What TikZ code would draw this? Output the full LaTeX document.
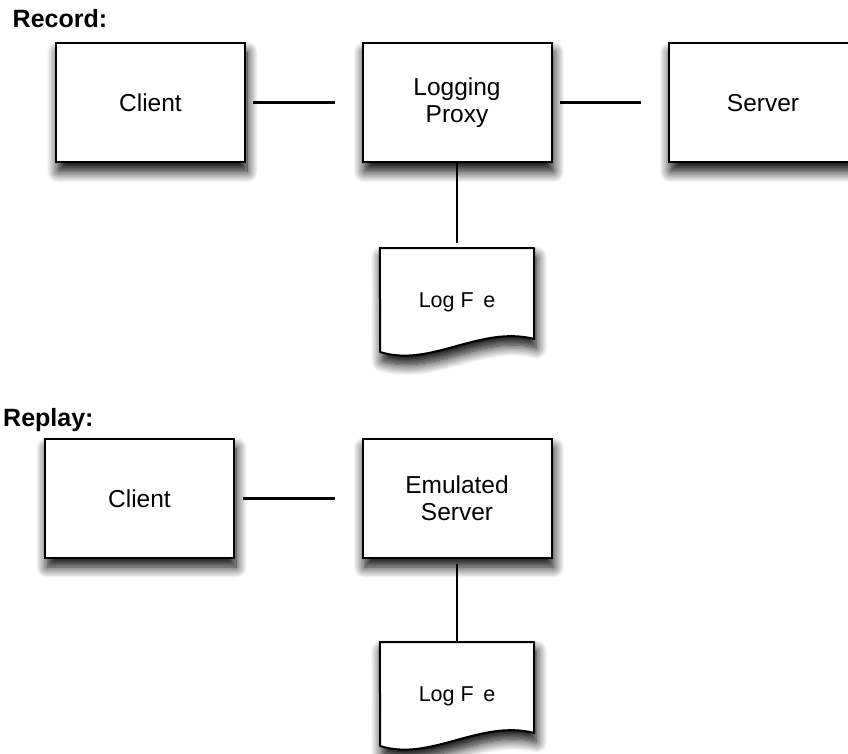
\documentclass[tikz,border=0pt]{standalone}
\usepackage{fontspec}
\setmainfont{Liberation Sans}
\usetikzlibrary{shadows.blur}

\tikzset{
  x=1pt, y=-1pt,
  softshadow/.style={blur shadow={shadow xshift=2pt, shadow yshift=-9pt,
      shadow blur radius=11pt, shadow blur steps=14, shadow opacity=100}},
  unitbox/.style={draw, line width=2pt, fill=white, softshadow,
      minimum width=189pt, minimum height=119pt, inner sep=0pt,
      align=center, font=\fontsize{24.5}{27}\selectfont},
  sheet/.style={minimum width=154pt, minimum height=108pt, inner sep=0pt,
      anchor=north},
  sheettext/.style={font=\fontsize{21.5}{25}\selectfont},
  sheetline/.style={draw, line width=2pt, fill=white, line join=round, softshadow},
  link/.style={line width=3pt},
  feed/.style={line width=2pt},
  heading/.style={anchor=base west, inner sep=0pt,
      font=\fontsize{25}{29}\selectfont\bfseries}
}

% document sheet with a wavy lower edge, drawn round an empty node
\newcommand\logsheet[1]{%
  \path[sheetline] (#1.north west) -- (#1.north east) -- ++(0,91)
    .. controls +(-54,-14) and +(50,16) .. ++(-154,13) -- cycle;%
}

\begin{document}
\begin{tikzpicture}
\useasboundingbox (0,0) rectangle (848,754);

% Record
\node[heading] (rec) at (12.5,27.3) {Record:};
\node[unitbox] (client1) at (150.5,103) {Client};
\node[unitbox] (proxy) at (457,103) {Logging\\Proxy};
\node[unitbox] (server) at (763,103) {Server};
\node[sheet] (log1) at (457,248) {};
\logsheet{log1}
\node[sheettext] (log1text) at (log1) {Log F\phantom{il}e};

\draw[link, shorten <=7pt, shorten >=27pt] (client1.east) -- (proxy.west);
\draw[link, shorten <=7pt, shorten >=27pt] (proxy.east) -- (server.west);
\draw[feed, shorten >=5pt] (proxy.south) -- (log1.north);

% Replay
\node[heading] (rep) at (3,426) {Replay:};
\node[unitbox] (client2) at (139.5,498.5) {Client};
\node[unitbox] (emul) at (457,498.5) {Emulated\\Server};
\node[sheet] (log2) at (457,642) {};
\logsheet{log2}
\node[sheettext] (log2text) at (log2) {Log F\phantom{il}e};

\draw[link, shorten <=8pt, shorten >=27pt] (client2.east) -- (emul.west);
\draw[feed, shorten <=5pt] (emul.south) -- (log2.north);
\end{tikzpicture}
\end{document}
